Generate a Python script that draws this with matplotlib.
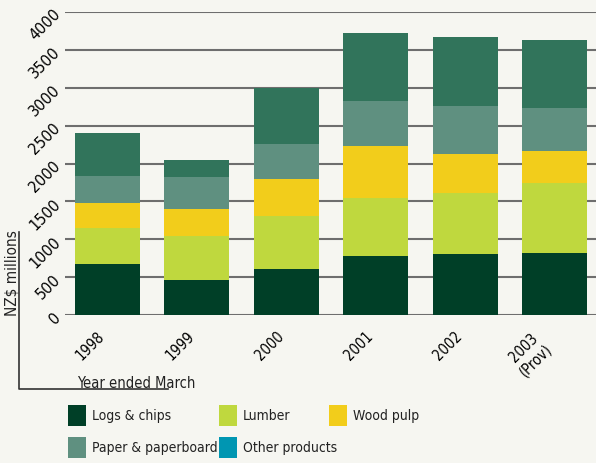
import numpy as np
import matplotlib.pyplot as plt
from matplotlib.patches import Rectangle
from matplotlib.lines import Line2D

# NZ$ millions, year ended March
years = ["1998", "1999", "2000", "2001", "2002", "2003\n(Prov)"]
logs_chips = [670, 460, 610, 785, 800, 815]
lumber = [485, 580, 695, 765, 815, 930]
wood_pulp = [320, 355, 490, 675, 505, 415]
paper = [360, 425, 460, 600, 640, 570]
other = [565, 220, 740, 900, 910, 900]

series_names = ["Logs & chips", "Lumber", "Wood pulp", "Paper & paperboard", "Other products"]
bar_colors = ["#003f27", "#bfd83e", "#f2cd1b", "#5f9080", "#31745b"]
key_colors = ["#003f27", "#bfd83e", "#f2cd1b", "#5f9080", "#0096b2"]

bg = "#f6f6f1"
plt.rcParams["font.family"] = ["DejaVu Sans"]
plt.rcParams["font.stretch"] = "condensed"
plt.rcParams["text.color"] = "#222222"

fig = plt.figure(figsize=(5.96, 4.63), dpi=100, facecolor=bg)
ax = fig.add_axes([65 / 596, 148 / 463, 531 / 596, 303 / 463])
ax.set_facecolor(bg)

x = np.arange(len(years))
bottom = np.zeros(len(years))
for vals, col in zip([logs_chips, lumber, wood_pulp, paper, other], bar_colors):
    ax.bar(x, vals, width=0.727, bottom=bottom, color=col, zorder=3)
    bottom += np.array(vals)

ax.set_ylim(0, 4000)
ax.set_xlim(-0.475, 5.46)
ax.set_yticks(np.arange(0, 4001, 500))
ax.grid(axis="y", color="#6e6e6e", linewidth=1.5, zorder=0)
for s in ax.spines.values():
    s.set_visible(False)

ax.set_xticks(x)
ax.set_xticklabels(years, rotation=45, ha="right", va="top", multialignment="center", fontsize=10.5)
ax.tick_params(axis="x", length=0, pad=10)
ax.tick_params(axis="y", length=0, pad=5, labelsize=11.5)
for lab in ax.get_yticklabels():
    lab.set_rotation(45)
    lab.set_rotation_mode("anchor")
    lab.set_ha("right")
    lab.set_va("center")

# axis titles joined by a bracket line
fig.text(12 / 596, 1 - 273 / 463, "NZ$ millions", rotation=90, ha="center", va="center", fontsize=11)
fig.add_artist(Line2D([19 / 596, 19 / 596, 168 / 596], [1 - 232 / 463, 1 - 389 / 463, 1 - 389 / 463],
                      color="#333333", linewidth=1.2))
fig.text(77 / 596, 1 - 388 / 463, "Year ended March", ha="left", va="baseline", fontsize=10.5)

# key in two rows
key_pos = [(68, 405), (219, 405), (329, 405), (68, 437), (219, 437)]
for (px, py), name, col in zip(key_pos, series_names, key_colors):
    fig.add_artist(Rectangle((px / 596, 1 - (py + 21) / 463), 18 / 596, 21 / 463,
                             facecolor=col, edgecolor="none"))
    fig.text((px + 24) / 596, 1 - (py + 11) / 463, name, ha="left", va="center", fontsize=10)

fig.savefig("out.png", dpi=100, facecolor=bg)
